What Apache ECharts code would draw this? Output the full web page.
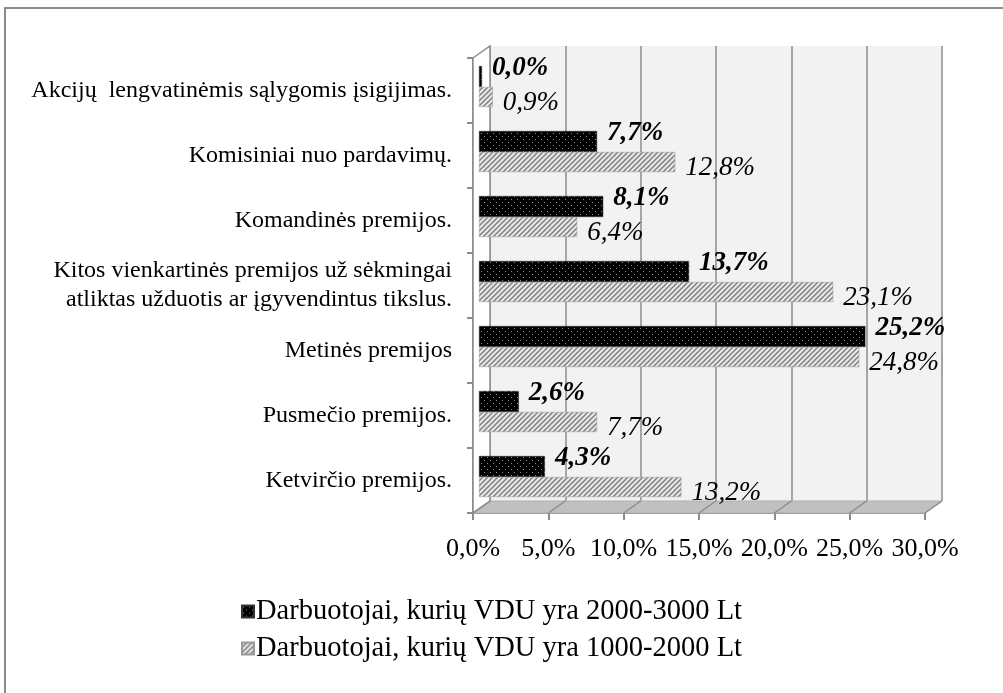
<!DOCTYPE html>
<html>
<head>
<meta charset="utf-8">
<script src="https://cdn.jsdelivr.net/npm/echarts@6/dist/echarts.min.js"></script>
<style>
  html, body { margin: 0; padding: 0; background: #fff; }
  #chart { width: 1003px; height: 693px; }
</style>
</head>
<body>
<div id="chart"></div>
<script>
// kategorijos (iš viršaus į apačią)
const categories = [
  'Akcijų  lengvatinėmis sąlygomis įsigijimas.',
  'Komisiniai nuo pardavimų.',
  'Komandinės premijos.',
  'Kitos vienkartinės premijos už sėkmingai\natliktas užduotis ar įgyvendintus tikslus.',
  'Metinės premijos',
  'Pusmečio premijos.',
  'Ketvirčio premijos.'
]
const seriesHighName = 'Darbuotojai, kurių VDU yra 2000-3000 Lt'
const seriesLowName = 'Darbuotojai, kurių VDU yra 1000-2000 Lt'
const highValues = [0.0, 7.7, 8.1, 13.7, 25.2, 2.6, 4.3]
const lowValues = [0.9, 12.8, 6.4, 23.1, 24.8, 7.7, 13.2]
const xTicks = [0, 5, 10, 15, 20, 25, 30]

const FONT = '"Liberation Serif", "Times New Roman", serif'
// 3D gylis (priekis -> galinė siena)
const DX = 17
const DY = -12
const front = { left: 473, top: 58, width: 452, height: 455 }

function makePattern (kind) {
  const c = document.createElement('canvas')
  const ctx = c.getContext('2d')
  if (kind === 'dots') {
    c.width = 6
    c.height = 6
    ctx.fillStyle = '#000'
    ctx.fillRect(0, 0, 6, 6)
    ctx.fillStyle = '#8a8a8a'
    ctx.fillRect(1, 1, 1, 1)
    ctx.fillRect(4, 4, 1, 1)
  } else {
    c.width = 5
    c.height = 5
    ctx.fillStyle = '#e6e6e6'
    ctx.fillRect(0, 0, 5, 5)
    ctx.strokeStyle = '#7a7a7a'
    ctx.lineWidth = 1.3
    ctx.beginPath()
    ctx.moveTo(-1, 6); ctx.lineTo(6, -1)
    ctx.moveTo(-1, 1); ctx.lineTo(1, -1)
    ctx.moveTo(4, 6); ctx.lineTo(6, 4)
    ctx.stroke()
  }
  return { image: c, repeat: 'repeat' }
}

const fmt = p => p.value.toFixed(1).replace('.', ',') + '%'

const chart = echarts.init(document.getElementById('chart'))

const option = {
  backgroundColor: '#fff',
  animation: false,
  textStyle: { fontFamily: FONT },
  graphic: [{
    type: 'rect',
    shape: { x: 5, y: 8, width: 1010, height: 700 },
    style: { fill: 'none', stroke: '#8c8c8c', lineWidth: 2 },
    z: -10
  }],
  grid: [
    // galinė siena
    { left: front.left + DX, top: front.top + DY, width: front.width, height: front.height,
      show: true, backgroundColor: '#f2f2f2', borderWidth: 0 },
    // stulpeliai
    { left: front.left + 6, top: front.top - 4, width: front.width + 8, height: front.height },
    // priekinės ašys
    { left: front.left, top: front.top, width: front.width, height: front.height }
  ],
  legend: {
    orient: 'vertical',
    left: 236,
    top: 592,
    itemWidth: 12,
    itemHeight: 12,
    itemGap: 8,
    icon: 'rect',
    data: [seriesHighName, seriesLowName],
    textStyle: { fontFamily: FONT, fontSize: 28.5, color: '#000', padding: [0, 0, 0, -3] }
  },
  xAxis: [
    { gridIndex: 0, type: 'value', min: 0, max: 30, interval: 5,
      axisLine: { show: false }, axisTick: { show: false }, axisLabel: { show: false },
      splitLine: { show: true, lineStyle: { color: '#a6a6a6', width: 2 } } },
    { gridIndex: 1, type: 'value', min: 0, max: 30, interval: 5, show: false },
    { gridIndex: 2, type: 'value', min: 0, max: 30, interval: 5,
      axisLine: { show: true, lineStyle: { color: '#8c8c8c', width: 2 } },
      axisTick: { show: true, length: 7, lineStyle: { color: '#8c8c8c', width: 2 } },
      axisLabel: { fontFamily: FONT, fontSize: 26, color: '#000', margin: 23,
        formatter: v => v.toFixed(1).replace('.', ',') + '%' },
      splitLine: { show: false } }
  ],
  yAxis: [
    { gridIndex: 0, type: 'category', inverse: true, data: categories, show: false },
    { gridIndex: 1, type: 'category', inverse: true, data: categories, show: false },
    { gridIndex: 2, type: 'category', inverse: true, data: categories,
      axisLine: { show: true, lineStyle: { color: '#8c8c8c', width: 2 } },
      axisTick: { show: true, length: 6, lineStyle: { color: '#8c8c8c', width: 2 } },
      axisLabel: { fontFamily: FONT, fontSize: 24, color: '#000', margin: 21,
        lineHeight: 29, align: 'right' } }
  ],
  series: [
    {
      // grindys ir kairė siena
      type: 'custom',
      xAxisIndex: 2,
      yAxisIndex: 2,
      z: 1,
      silent: true,
      data: xTicks.map(v => [v, 0]),
      encode: { x: 0, y: 1 },
      renderItem (params, api) {
        const cs = params.coordSys
        const yb = cs.y + cs.height
        const x = api.coord([api.value(0), 0])[0]
        const children = []
        if (params.dataIndex === 0) {
          children.push({
            type: 'polygon',
            shape: { points: [[cs.x, yb], [cs.x + cs.width, yb], [cs.x + cs.width + DX, yb + DY], [cs.x + DX, yb + DY]] },
            style: { fill: '#c0c0c0', stroke: '#b0b0b0', lineWidth: 1 }
          })
          children.push({
            type: 'polygon',
            shape: { points: [[cs.x, cs.y], [cs.x + DX, cs.y + DY], [cs.x + DX, yb + DY], [cs.x, yb]] },
            style: { fill: '#ffffff', stroke: '#8c8c8c', lineWidth: 1.5 }
          })
        }
        children.push({
          type: 'line',
          shape: { x1: x, y1: yb, x2: x + DX, y2: yb + DY },
          style: { stroke: '#8c8c8c', lineWidth: 1.5 }
        })
        return { type: 'group', children }
      }
    },
    {
      name: seriesHighName,
      type: 'bar',
      xAxisIndex: 1,
      yAxisIndex: 1,
      z: 3,
      data: highValues,
      barWidth: 21,
      barGap: '0%',
      barMinHeight: 3,
      itemStyle: { color: makePattern('dots'), borderColor: '#333', borderWidth: 0.5 },
      label: {
        show: true, position: 'right', distance: 10, offset: [0, -8],
        formatter: fmt, fontFamily: FONT, fontSize: 27, fontStyle: 'italic',
        fontWeight: 'bold', color: '#000'
      }
    },
    {
      name: seriesLowName,
      type: 'bar',
      xAxisIndex: 1,
      yAxisIndex: 1,
      z: 3,
      data: lowValues,
      barWidth: 20,
      barGap: '0%',
      itemStyle: { color: makePattern('hatch'), borderColor: '#9a9a9a', borderWidth: 0.5 },
      label: {
        show: true, position: 'right', distance: 10, offset: [0, 6],
        formatter: fmt, fontFamily: FONT, fontSize: 27, fontStyle: 'italic',
        color: '#000'
      }
    }
  ]
}

chart.setOption(option)
</script>
</body>
</html>
